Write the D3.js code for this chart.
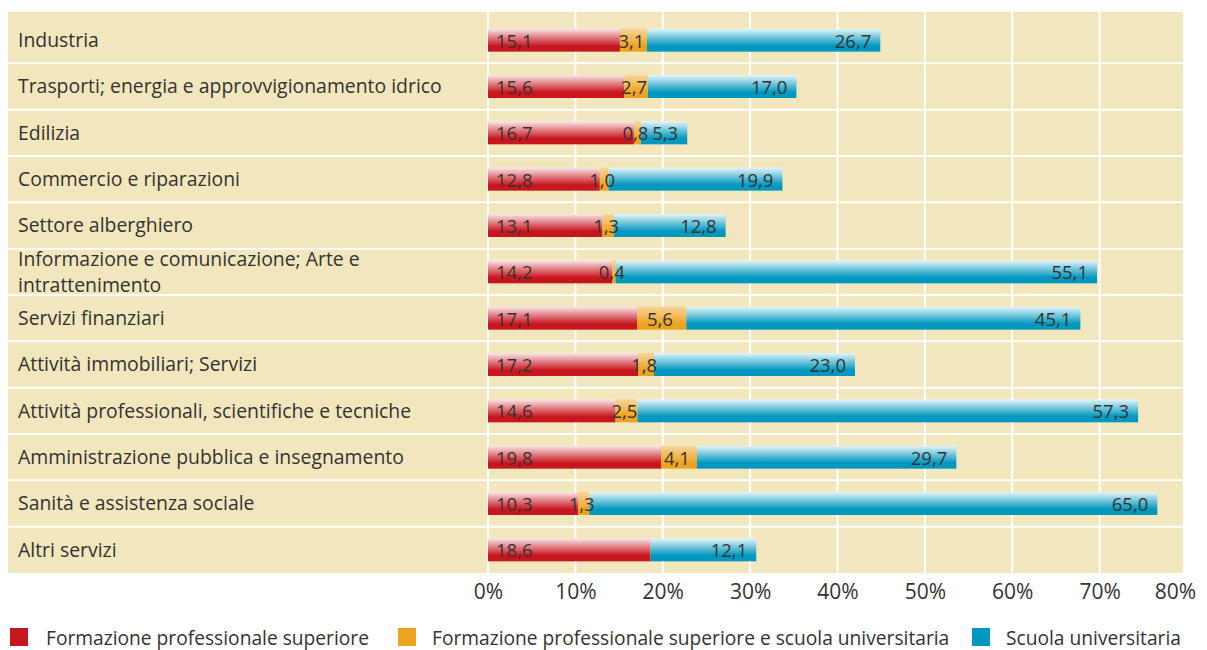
<!DOCTYPE html>
<html>
<head>
<meta charset="utf-8">
<script src="https://cdn.jsdelivr.net/npm/d3@7"></script>
<style>
  body { margin: 0; background: #fff; }
  svg text { font-family: "Open Sans", "Noto Sans", sans-serif; fill: #333; }
</style>
</head>
<body>
<svg id="chart" width="1207" height="650"></svg>
<script>
// data
var categories = [
  "Industria",
  "Trasporti; energia e approvvigionamento idrico",
  "Edilizia",
  "Commercio e riparazioni",
  "Settore alberghiero",
  "Informazione e comunicazione; Arte e\nintrattenimento",
  "Servizi finanziari",
  "Attività immobiliari; Servizi",
  "Attività professionali, scientifiche e tecniche",
  "Amministrazione pubblica e insegnamento",
  "Sanità e assistenza sociale",
  "Altri servizi"
];
var formazioneSup = [15.1, 15.6, 16.7, 12.8, 13.1, 14.2, 17.1, 17.2, 14.6, 19.8, 10.3, 18.6];
var formazioneUni = [3.1, 2.7, 0.8, 1.0, 1.3, 0.4, 5.6, 1.8, 2.5, 4.1, 1.3, 0];
var scuolaUni     = [26.7, 17.0, 5.3, 19.9, 12.8, 55.1, 45.1, 23.0, 57.3, 29.7, 65.0, 12.1];
var tickValues = [0, 10, 20, 30, 40, 50, 60, 70, 80];
var seriesNames = [
  "Formazione professionale superiore",
  "Formazione professionale superiore e scuola universitaria",
  "Scuola universitaria"
];
var seriesColors = ["#c8161e", "#eea320", "#0098be"];
var seriesKeys = ["fps", "fpsu", "su"];

var svg = d3.select("#chart");

var rows = categories.map(function (c, i) {
  return { cat: c, fps: formazioneSup[i], fpsu: formazioneUni[i], su: scuolaUni[i] };
});

var x = d3.scaleLinear().domain([0, 80]).range([488, 1187]);
var y = d3.scaleBand().domain(categories).range([17, 573]);
var barH = 23;

var fmt = function (v) { return d3.format(".1f")(v).replace(".", ","); };

// gradients (lighter at top)
var defs = svg.append("defs");
seriesColors.forEach(function (col, i) {
  var g = defs.append("linearGradient").attr("id", "grad" + i)
    .attr("x1", 0).attr("y1", 0).attr("x2", 0).attr("y2", 1);
  g.append("stop").attr("offset", "0%").attr("stop-color", d3.interpolateRgb(col, "#fff")(i == 1 ? 0.55 : 0.9));
  g.append("stop").attr("offset", "75%").attr("stop-color", col);
  g.append("stop").attr("offset", "100%").attr("stop-color", col);
});

// background panel
svg.append("rect")
  .attr("x", 8).attr("y", 12)
  .attr("width", 1183 - 8).attr("height", 573 - 12)
  .attr("fill", "#f2e6bd");

// vertical grid
svg.selectAll("line.vgrid")
  .data(tickValues.filter(function (d) { return x(d) < 1183; }))
  .enter().append("line")
  .attr("class", "vgrid")
  .attr("x1", function (d) { return x(d); })
  .attr("x2", function (d) { return x(d); })
  .attr("y1", 12).attr("y2", 573)
  .attr("stroke", "#fff").attr("stroke-width", 2);

// row separators
svg.selectAll("line.hgrid")
  .data(categories.slice(1))
  .enter().append("line")
  .attr("class", "hgrid")
  .attr("x1", 8).attr("x2", 1183)
  .attr("y1", function (d) { return y(d); })
  .attr("y2", function (d) { return y(d); })
  .attr("stroke", "#fff").attr("stroke-width", 2);

// category labels
svg.selectAll("text.cat")
  .data(categories)
  .enter().append("text")
  .attr("class", "cat")
  .attr("x", 18)
  .attr("font-size", 19.4)
  .each(function (d) {
    var lines = d.split("\n");
    var cy = y(d) + y.bandwidth() / 2;
    var t = d3.select(this);
    lines.forEach(function (l, k) {
      t.append("tspan")
        .attr("x", 18)
        .attr("y", cy + (k - (lines.length - 1) / 2) * 26)
        .attr("dy", "0.35em")
        .text(l);
    });
  });

// stacked bars
var stacked = d3.stack().keys(seriesKeys)(rows);

var layer = svg.selectAll("g.layer")
  .data(stacked)
  .enter().append("g")
  .attr("class", "layer")
  .attr("fill", function (d, i) { return "url(#grad" + i + ")"; });

layer.selectAll("rect")
  .data(function (d) { return d; })
  .enter().append("rect")
  .attr("x", function (d) { return x(d[0]); })
  .attr("y", function (d) { return y(d.data.cat) + (y.bandwidth() - barH) / 2; })
  .attr("width", function (d) { return x(d[1]) - x(d[0]); })
  .attr("height", barH);

// value labels
stacked.forEach(function (s, i) {
  svg.selectAll("text.val" + i)
    .data(s.filter(function (d) { return d[1] - d[0] > 0; }))
    .enter().append("text")
    .attr("class", "val" + i)
    .attr("font-size", 18.5)
    .attr("y", function (d) { return y(d.data.cat) + y.bandwidth() / 2 + 1; })
    .attr("dy", "0.35em")
    .attr("x", function (d) {
      if (i == 0) return x(d[0]) + 8;
      if (i == 1) return (x(d[0]) + x(d[1])) / 2 - 2;
      return x(d[1]) - 9;
    })
    .attr("text-anchor", i == 0 ? "start" : (i == 1 ? "middle" : "end"))
    .text(function (d) { return fmt(d[1] - d[0]); });
});

// x axis
var axis = svg.append("g")
  .attr("transform", "translate(0,580)")
  .call(d3.axisBottom(x).tickValues(tickValues).tickSize(0)
    .tickFormat(function (d) { return d + "%"; }));
axis.select(".domain").remove();
axis.selectAll("text")
  .attr("y", 12)
  .attr("dy", "0.35em")
  .attr("font-size", 21)
  .style("font-family", "'Open Sans', sans-serif")
  .attr("fill", "#333");
axis.selectAll(".tick").filter(function (d) { return d == 80; })
  .select("text").attr("dx", -12);

// legend
var legendX = [10, 398, 972];
var legend = svg.selectAll("g.legend")
  .data(seriesNames)
  .enter().append("g")
  .attr("class", "legend")
  .attr("transform", function (d, i) { return "translate(" + legendX[i] + ",628)"; });
legend.append("rect")
  .attr("width", 18).attr("height", 18)
  .attr("fill", function (d, i) { return seriesColors[i]; });
legend.append("text")
  .attr("x", function (d, i) { return i == 0 ? 36 : 34; }).attr("y", 10)
  .attr("dy", "0.35em")
  .attr("font-size", 19.2)
  .text(function (d) { return d; });
</script>
</body>
</html>
